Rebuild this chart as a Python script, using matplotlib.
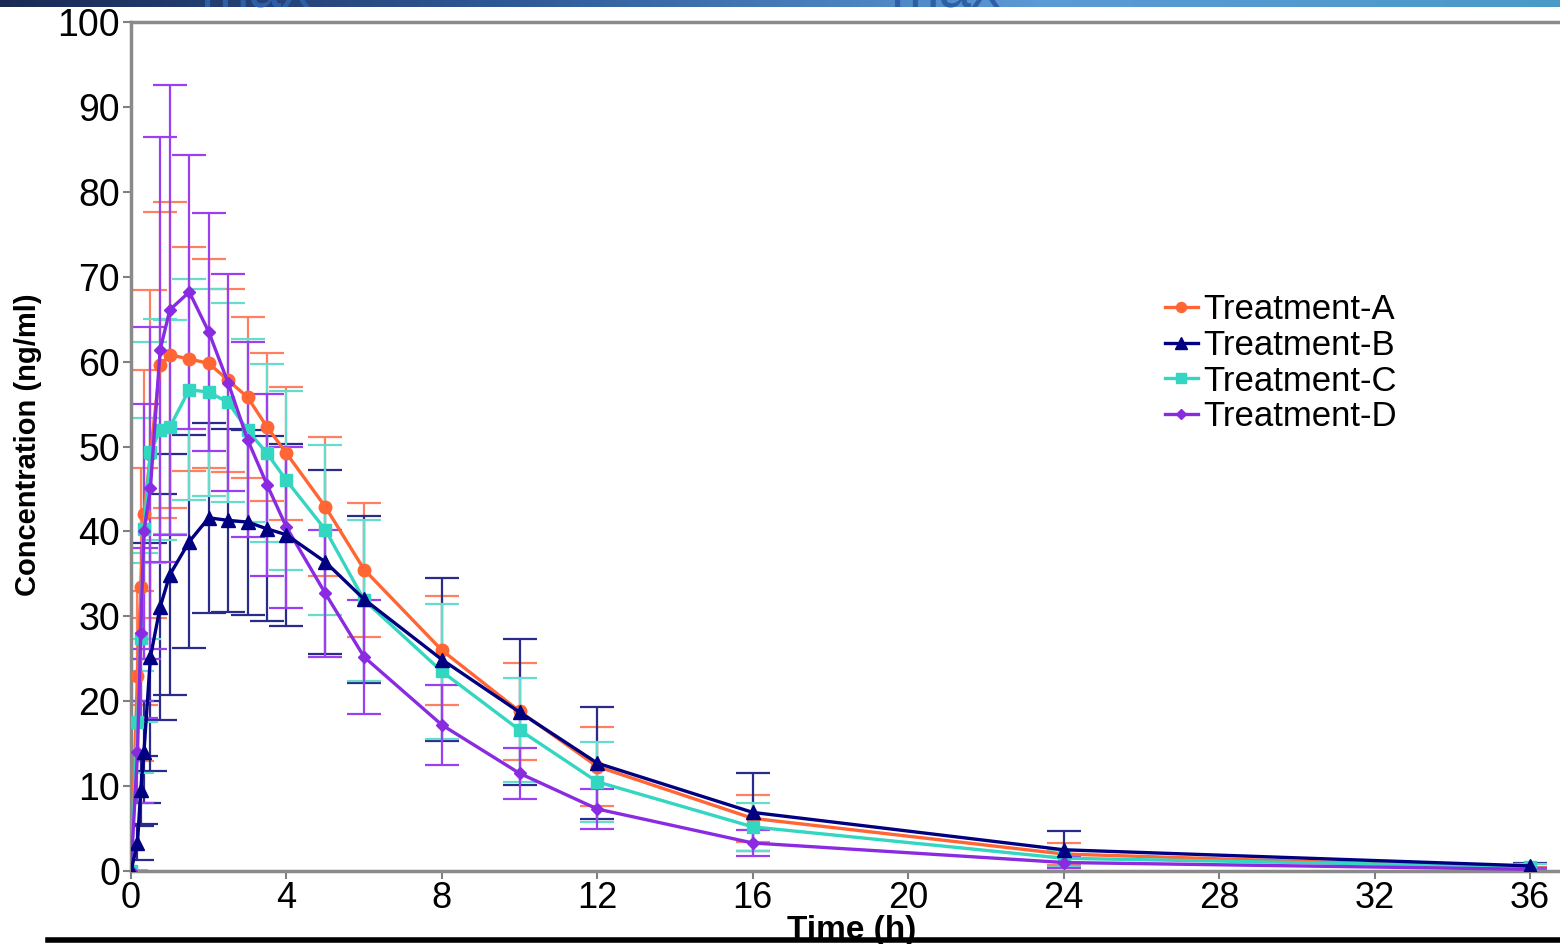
import numpy as np
import matplotlib
matplotlib.use('Agg')
import matplotlib.pyplot as plt
from matplotlib.colors import LinearSegmentedColormap

plt.rcParams['font.family'] = ['Liberation Sans', 'DejaVu Sans']

# sampling times (h)
time = [0, 0.167, 0.25, 0.333, 0.5, 0.75, 1, 1.5, 2, 2.5, 3, 3.5, 4, 5, 6, 8, 10, 12, 16, 24, 36]

# mean concentrations (ng/ml) and SD
conc_a = [0, 23.0, 33.5, 42.0, 49.1, 59.6, 60.8, 60.3, 59.8, 57.8, 55.8, 52.3, 49.2, 42.9, 35.5, 26.0, 18.8, 12.3, 6.2, 2.0, 0.3]
sd_a = [0, 10, 14, 17, 19.3, 18, 18, 13.2, 12.3, 10.8, 9.5, 8.7, 7.8, 8.2, 7.9, 6.4, 5.7, 4.7, 2.8, 1.3, 0.2]

conc_b = [0, 3.3, 9.5, 14.0, 25.2, 31.1, 34.9, 38.8, 41.6, 41.3, 41.1, 40.3, 39.6, 36.4, 32.0, 24.9, 18.7, 12.7, 6.9, 2.5, 0.6]
sd_b = [0, 2, 4, 6, 13.4, 13.3, 14.2, 12.5, 11.2, 10.8, 10.9, 10.9, 10.7, 10.8, 9.8, 9.6, 8.6, 6.6, 4.6, 2.2, 0.3]

conc_c = [0, 17.5, 27.5, 40.3, 49.3, 52.0, 52.3, 56.7, 56.4, 55.2, 51.9, 49.2, 46.0, 40.2, 31.9, 23.5, 16.6, 10.5, 5.2, 1.5, 0.5]
sd_c = [0, 6, 10, 13, 13, 13, 12.6, 13, 12.2, 11.7, 10.8, 10.5, 10.5, 10, 9.5, 7.9, 6.1, 4.7, 2.8, 1.0, 0.3]

conc_d = [0, 14.0, 28.0, 40.0, 45.1, 61.4, 66.1, 68.2, 63.5, 57.5, 50.8, 45.5, 40.5, 32.7, 25.2, 17.2, 11.5, 7.3, 3.3, 1.0, 0.2]
sd_d = [0, 6, 10, 15, 19, 25, 26.5, 16.1, 14, 12.8, 11.5, 10.7, 9.5, 7.5, 6.7, 4.7, 3.0, 2.3, 1.5, 0.6, 0.1]

labels = ['Treatment-A', 'Treatment-B', 'Treatment-C', 'Treatment-D']
x_ticks = [0, 4, 8, 12, 16, 20, 24, 28, 32, 36]
y_ticks = [0, 10, 20, 30, 40, 50, 60, 70, 80, 90, 100]

fig = plt.figure(figsize=(15.6, 9.44), dpi=100)
ax = fig.add_axes([131 / 1560, 1 - 871 / 944, 1429 / 1560, 849 / 944])

series = [
    (conc_a, sd_a, '#FF6633', '#FF8060', 'o', 9, 3),
    (conc_b, sd_b, '#000080', '#2B2B8C', '^', 10, 6),
    (conc_c, sd_c, '#33D6C0', '#66DDCC', 's', 8.5, 4),
    (conc_d, sd_d, '#8A2BE2', '#9A40F0', 'D', 6.5, 5),
]
for (y, sd, col, ecol, mk, ms, z), lab in zip(series, labels):
    ax.errorbar(time, y, yerr=sd, fmt='none', ecolor=ecol, elinewidth=1.6,
                capsize=12, capthick=1.6, zorder=2)
    ax.plot(time, y, color=col, lw=2.4, marker=mk, markersize=ms,
            markeredgecolor=col, label=lab, zorder=z)

ax.set_xlim(0, 36.77)
ax.set_ylim(0, 100)
ax.set_xticks(x_ticks)
ax.set_yticks(y_ticks)
ax.tick_params(axis='both', labelsize=27, length=6, width=1.5, color='#808080', pad=2)
ax.tick_params(axis='x', labelsize=26, pad=1)

for side in ['left', 'bottom', 'top']:
    ax.spines[side].set_color('#8a8a8a')
    ax.spines[side].set_linewidth(2.5)
ax.spines['right'].set_visible(False)

# axis titles placed as figure text to sit where the reference has them
fig.text(28 / 1560, 1 - 445 / 944, 'Concentration (ng/ml)', rotation=90,
         fontsize=21, fontweight='bold', ha='center', va='center')
fig.text(852 / 1560, 1 - 915 / 944, 'Time (h)', fontsize=24, fontweight='bold',
         ha='center', va='top')

ax.legend(loc='upper left', bbox_to_anchor=(1165 / 1560, 1 - 293 / 944),
          bbox_transform=fig.transFigure, frameon=False, fontsize=25,
          handlelength=0.95, handletextpad=0.15, labelspacing=0.08,
          borderpad=0, borderaxespad=0, markerscale=0.8)

# slide decoration: gradient strip at the top and black rule at the bottom
grad = LinearSegmentedColormap.from_list('bar', ['#1a2a55', '#2f5a98', '#5b9ad6', '#4a9ac8'])
bar_ax = fig.add_axes([0, 1 - 7 / 944, 1, 7 / 944])
bar_ax.imshow(np.linspace(0, 1, 256).reshape(1, -1), aspect='auto', cmap=grad)
bar_ax.axis('off')
for xt in [200 / 1560, 890 / 1560]:
    fig.text(xt, 1 - 7 / 944, 'max', fontsize=42, color='#2e5ea6', va='baseline', ha='left')

fig.add_artist(plt.Line2D([48 / 1560, 1], [1 - 940 / 944, 1 - 940 / 944],
                          transform=fig.transFigure, color='black', lw=4))

fig.savefig('out.png', dpi=100)
